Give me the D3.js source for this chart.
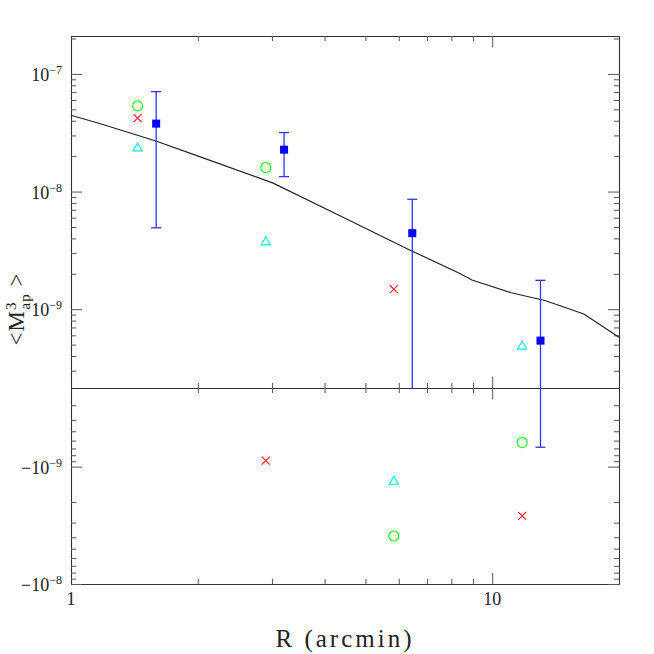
<!DOCTYPE html>
<html>
<head>
<meta charset="utf-8">
<script src="https://cdn.jsdelivr.net/npm/d3@7"></script>
<style>
    body { margin: 0; background: #fff; }
    svg { display: block; }
    .axis path, .axis line { stroke: #333; }
    text { font-family: "Liberation Serif", "DejaVu Serif", serif; fill: #222; }
</style>
</head>
<body>
<div id="chart"></div>
<script>
// measured aperture mass skewness (blue squares with errors)
var obsR = [1.593, 3.205, 6.46, 13.02];
var obsVal = [3.78e-8, 2.27e-8, 4.43e-9, 5.41e-10];
var obsHi = [7.07e-8, 3.17e-8, 8.6e-9, 1.76e-9];
var obsLo = [4.92e-9, 1.34e-8, -1.5e-10, -6.84e-10];

// other estimates
var altR = [1.439, 2.90, 5.84, 11.78];
var circleVal = [5.35e-8, 1.60e-8, -3.9e-9, -6.24e-10];
var crossVal = [4.21e-8, -8.89e-10, 1.48e-9, -2.63e-9];
var triangleVal = [2.37e-8, 3.78e-9, -1.32e-9, 4.91e-10];

// model curve
var modelR = [1, 1.18, 1.59, 2.02, 3.02, 4.35, 6.44, 8.36, 8.95, 11.1, 13.4, 16.5, 20];
var modelVal = [4.45e-8, 3.75e-8, 2.69e-8, 1.98e-8, 1.18e-8, 6.22e-9, 3.13e-9,
    2.02e-9, 1.77e-9, 1.38e-9, 1.18e-9, 9.12e-10, 5.78e-10];

var xMajor = [1, 10];
var xMinor = [2, 3, 4, 5, 6, 7, 8, 9, 20];
var topMajor = [1e-7, 1e-8, 1e-9];
var topExp = ["\u22127", "\u22128", "\u22129"];
var botMajor = [1e-9, 1e-8];
var botExp = ["\u22129", "\u22128"];

(function () {
    "use strict";

    var width = 654, height = 654;
    var left = 71, right = 619, top = 36, zero = 388, bottom = 584;
    var yMin = 2.14e-10;

    var svg = d3.select("#chart").append("svg")
        .attr("width", width)
        .attr("height", height);

    var x = d3.scaleLog().domain([1, 20]).range([left, right]);
    var yTop = d3.scaleLog().domain([yMin, 2.1e-7]).range([zero, top]).clamp(true);
    var yBot = d3.scaleLog().domain([yMin, 1e-8]).range([zero, bottom]).clamp(true);

    function y(v) { return v > 0 ? yTop(v) : yBot(-v); }

    function minors(lo, hi) {
        var out = [];
        for (var k = -11; k <= -6; k++) {
            for (var m = 2; m <= 9; m++) {
                var v = m * Math.pow(10, k);
                if (v > lo && v < hi) out.push(v);
            }
        }
        return out;
    }

    // x axes: top, bottom and the zero line (ticks both ways)
    function xAxis(gen, ypos, size, vals, noLine) {
        var g = svg.append("g").attr("class", "axis")
            .attr("transform", "translate(0," + ypos + ")")
            .call(gen(x).tickValues(vals).tickSize(size).tickSizeOuter(0).tickFormat(""));
        if (noLine) g.select(".domain").remove();
    }
    xAxis(d3.axisBottom, top, 11, xMajor);
    xAxis(d3.axisBottom, top, 5, xMinor, true);
    xAxis(d3.axisTop, bottom, 11, xMajor);
    xAxis(d3.axisTop, bottom, 5, xMinor, true);
    xAxis(d3.axisTop, zero, 11, xMajor);
    xAxis(d3.axisTop, zero, 5, xMinor, true);
    xAxis(d3.axisBottom, zero, 11, xMajor, true);
    xAxis(d3.axisBottom, zero, 5, xMinor, true);

    // y axes, left and right for both panels
    function yAxis(gen, xpos, scale, size, vals, noLine) {
        var g = svg.append("g").attr("class", "axis")
            .attr("transform", "translate(" + xpos + ",0)")
            .call(gen(scale).tickValues(vals).tickSize(size).tickSizeOuter(0).tickFormat(""));
        if (noLine) g.select(".domain").remove();
    }
    [[d3.axisRight, left], [d3.axisLeft, right]].forEach(function (a) {
        yAxis(a[0], a[1], yTop, 11, topMajor);
        yAxis(a[0], a[1], yTop, 5, minors(yMin, 2.1e-7), true);
        yAxis(a[0], a[1], yBot, 11, botMajor);
        yAxis(a[0], a[1], yBot, 5, minors(yMin, 1e-8), true);
    });
    svg.selectAll(".axis path").style("stroke-width", 1.1).style("stroke", "#333");
    svg.selectAll(".axis line").style("stroke", "#555");

    // tick labels
    function powLabel(ypos, prefix, exp) {
        var t = svg.append("text")
            .attr("x", 62).attr("y", ypos + 7)
            .attr("text-anchor", "end")
            .style("font-size", "18px")
            .text(prefix + "10");
        t.append("tspan").attr("dy", -7).style("font-size", "12px").text(exp);
    }
    topMajor.forEach(function (v, i) { powLabel(yTop(v), "", topExp[i]); });
    botMajor.forEach(function (v, i) { powLabel(yBot(v), "\u2212", botExp[i]); });

    svg.selectAll(".xlab")
        .data(xMajor)
        .enter().append("text")
        .attr("x", function (d) { return x(d); })
        .attr("y", 605)
        .attr("text-anchor", "middle")
        .style("font-size", "18px")
        .text(function (d) { return d; });

    // axis titles
    svg.append("text")
        .attr("x", 345).attr("y", 647)
        .attr("text-anchor", "middle")
        .style("font-size", "25px")
        .style("letter-spacing", "3px")
        .text("R (arcmin)");

    var yt = svg.append("text")
        .attr("transform", "translate(24,309) rotate(-90)")
        .attr("text-anchor", "middle")
        .style("font-size", "23px")
        .style("letter-spacing", "1px")
        .text("<M");
    yt.append("tspan").attr("dy", -8).style("font-size", "15px").text("3");
    yt.append("tspan").attr("dx", -8).attr("dy", 14).style("font-size", "15px").text("ap");
    yt.append("tspan").attr("dy", -6).text(" >");

    // model line
    var line = d3.line()
        .x(function (d) { return x(d[0]); })
        .y(function (d) { return y(d[1]); });
    svg.append("path")
        .datum(d3.zip(modelR, modelVal))
        .attr("d", line)
        .attr("fill", "none")
        .attr("stroke", "#222")
        .attr("stroke-width", 1.2);

    // error bars
    var obs = obsR.map(function (r, i) {
        return { r: r, v: obsVal[i], hi: obsHi[i], lo: obsLo[i] };
    });
    var eb = svg.append("g").attr("stroke", "#3333ff").attr("stroke-width", 1.3);
    obs.forEach(function (d) {
        var cx = x(d.r);
        eb.append("line").attr("x1", cx).attr("x2", cx).attr("y1", y(d.hi)).attr("y2", y(d.lo));
        eb.append("line").attr("x1", cx - 5).attr("x2", cx + 5).attr("y1", y(d.hi)).attr("y2", y(d.hi));
        if (Math.abs(d.lo) > yMin) {
            eb.append("line").attr("x1", cx - 5).attr("x2", cx + 5).attr("y1", y(d.lo)).attr("y2", y(d.lo));
        }
    });
    svg.selectAll(".sq")
        .data(obs)
        .enter().append("rect")
        .attr("x", function (d) { return x(d.r) - 4; })
        .attr("y", function (d) { return y(d.v) - 4; })
        .attr("width", 8).attr("height", 8)
        .attr("fill", "#0000ff");

    // circles
    svg.selectAll(".circ")
        .data(d3.zip(altR, circleVal))
        .enter().append("circle")
        .attr("cx", function (d) { return x(d[0]); })
        .attr("cy", function (d) { return y(d[1]); })
        .attr("r", 5)
        .attr("fill", "none")
        .attr("stroke", "#22ff22")
        .attr("stroke-width", 1.2);

    // crosses
    svg.selectAll(".cross")
        .data(d3.zip(altR, crossVal))
        .enter().append("path")
        .attr("transform", function (d) { return "translate(" + x(d[0]) + "," + y(d[1]) + ")"; })
        .attr("d", "M-4,-4L4,4M-4,4L4,-4")
        .attr("stroke", "#ff2222")
        .attr("stroke-width", 1.2);

    // triangles
    svg.selectAll(".tri")
        .data(d3.zip(altR, triangleVal))
        .enter().append("path")
        .attr("transform", function (d) { return "translate(" + x(d[0]) + "," + y(d[1]) + ")"; })
        .attr("d", "M0,-4.5L4.5,3.5L-4.5,3.5Z")
        .attr("fill", "none")
        .attr("stroke", "#00f0f0")
        .attr("stroke-width", 1.2);
})();
</script>
</body>
</html>
